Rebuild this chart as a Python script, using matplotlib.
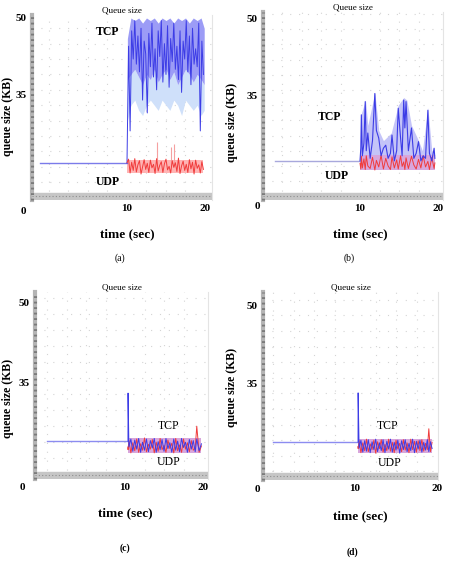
import matplotlib
matplotlib.use("Agg")
import matplotlib.pyplot as plt
from matplotlib.ticker import MultipleLocator

plt.rcParams["font.family"] = ["Liberation Serif", "DejaVu Serif"]

# colours
tcpBlue = "#3c3ce6"
tcpFill = "#9c9cf6"
tcpPale = "#cfe0fa"
udpRed = "#f03c3c"
udpFill = "#ffb4b4"
mixFill = "#d8a6dc"
stripGray = "#b4b4b4"

# ---------------- data (queue size in KB, time in sec) ----------------
# (a) flat part before 10 s
flat_a_t = [-1.15, 10.0]
flat_a_v = [21.7, 21.7]
times_a = [10.0, 10.2, 10.4, 10.6, 10.8, 11.0, 11.2, 11.4, 11.6, 11.8,
           12.0, 12.2, 12.4, 12.6, 12.8, 13.0, 13.2, 13.4, 13.6, 13.8,
           14.0, 14.2, 14.4, 14.6, 14.8, 15.0, 15.2, 15.4, 15.6, 15.8,
           16.0, 16.2, 16.4, 16.6, 16.8, 17.0, 17.2, 17.4, 17.6, 17.8,
           18.0, 18.2, 18.4, 18.6, 18.8, 19.0, 19.2, 19.4, 19.6, 19.8]
tcp_a = [21.7, 44.5, 28.0, 47.5, 42.0, 49.5, 41.0, 46.5, 39.5, 48.0,
         34.0, 45.5, 43.0, 31.5, 47.0, 40.5, 49.0, 38.5, 44.0, 36.0,
         47.5, 42.5, 49.5, 37.5, 45.0, 39.0, 48.5, 36.5, 46.0, 41.5,
         49.0, 40.0, 44.5, 38.0, 47.5, 35.5, 45.5, 42.0, 49.5, 39.5,
         46.5, 37.0, 48.0, 41.0, 44.0, 40.5, 49.0, 28.0, 45.5, 39.0]
udp_a = [21.8, 22.5, 19.8, 21.9, 20.3, 22.6, 20.0, 21.4, 22.2, 19.6,
         21.0, 22.4, 20.5, 21.7, 19.9, 22.3, 20.8, 21.5, 19.7, 22.6,
         20.2, 21.3, 22.0, 19.9, 21.6, 22.5, 20.4, 21.1, 19.8, 22.2,
         20.9, 21.8, 20.1, 22.7, 19.7, 21.2, 22.1, 20.3, 21.5, 19.9,
         22.4, 20.6, 21.9, 19.6, 22.3, 20.7, 21.4, 19.8, 22.0, 20.5]
env_a_t = [10.05, 10.5, 11, 11.5, 12, 12.5, 13, 13.5, 14, 14.5, 15,
           15.5, 16, 16.5, 17, 17.5, 18, 18.5, 19, 19.5, 19.9]
env_a_hi = [46, 50, 49.5, 50, 49, 50, 49.5, 50, 49, 50, 49.5,
            50, 49, 50, 49.5, 50, 49, 50, 49.5, 50, 48]
env_a_lo = [38, 39, 40, 38.5, 37, 39, 38, 40, 37.5, 39, 40,
            38, 39.5, 37, 38.5, 40, 39, 37.5, 39, 38, 37]
env_a_lo2 = [30, 33, 34, 32, 31, 33, 34, 33, 32, 34, 33,
             32, 34, 33, 31, 34, 33, 32, 33, 31, 32]
udp_band_a = [19.8, 22.4]
udp_spike_a_t = [13.8, 15.6, 16.0]
udp_spike_a_v = [25.8, 24.8, 25.5]

# (b)
flat_b_t = [-0.9, 10.0]
flat_b_v = [22.0, 22.0]
times_b = [10.0, 10.1, 10.17, 10.3, 10.5, 10.67, 10.8, 11.0, 11.3, 11.6,
           11.9, 12.1, 12.4, 12.7, 13.0, 13.3, 13.6, 13.9, 14.1, 14.4,
           14.7, 14.9, 15.2, 15.4, 15.6, 15.75, 15.9, 16.2, 16.6, 16.9,
           17.2, 17.5, 17.8, 18.1, 18.4, 18.7, 18.9, 19.2, 19.5, 19.6]
tcp_b = [22.0, 24.5, 31.1, 23.0, 25.5, 33.7, 24.0, 27.5, 22.5, 26.0,
         35.3, 28.0, 26.5, 23.0, 24.5, 25.1, 22.5, 23.5, 27.1, 22.0,
         24.0, 32.4, 26.5, 23.0, 34.0, 28.5, 33.7, 24.0, 28.5, 22.5,
         23.5, 25.8, 22.0, 23.0, 22.5, 32.0, 23.5, 22.0, 24.5, 22.5]
udp_b = [21.5, 20.4, 22.9, 20.6, 22.4, 20.3, 23.0, 21.0, 20.5, 22.7,
         20.2, 22.1, 20.8, 23.1, 20.4, 22.5, 21.0, 20.3, 22.8, 20.6,
         22.2, 20.4, 23.0, 20.9, 21.8, 20.3, 22.6, 20.5, 22.9, 21.2,
         20.4, 22.3, 20.6, 23.0, 20.8, 21.9, 20.3, 22.7, 20.5, 21.6]
env_b_t = [10.0, 10.2, 10.7, 11.0, 11.9, 12.4, 13.0, 14.0, 14.9,
           15.6, 16.0, 16.6, 17.5, 18.0, 18.7, 19.2, 19.6]
env_b_hi = [22, 31.5, 34, 29, 35.5, 28, 26, 27.5, 33,
            34.5, 34, 29, 26, 24, 32.5, 24, 23]
band_b = [20.2, 23.2]

# (c)
flat_c_t = [0.0, 10.38]
flat_c_v = [24.1, 24.1]
times_c = [10.38, 10.39, 10.5, 10.75, 11.0, 11.25, 11.5, 11.75, 12.0, 12.25,
           12.5, 12.75, 13.0, 13.25, 13.5, 13.75, 14.0, 14.25, 14.5, 14.75,
           15.0, 15.25, 15.5, 15.75, 16.0, 16.25, 16.5, 16.75, 17.0, 17.25,
           17.5, 17.75, 18.0, 18.25, 18.5, 18.75, 19.0, 19.2, 19.5, 19.8]
tcp_c = [24.1, 33.1, 23.0, 24.5, 22.2, 24.3, 22.6, 24.6, 22.0, 23.9,
         22.4, 24.5, 22.1, 24.2, 22.8, 24.6, 22.0, 24.0, 22.5, 24.4,
         22.2, 24.6, 22.7, 23.8, 22.0, 24.5, 22.4, 24.1, 22.1, 24.6,
         22.9, 23.9, 22.0, 24.4, 22.6, 24.2, 22.1, 24.5, 22.3, 23.6]
udp_c = [23.0, 22.5, 24.2, 21.9, 23.8, 22.3, 24.5, 22.0, 23.6, 22.4,
         24.7, 22.1, 23.5, 22.6, 24.4, 21.9, 23.9, 22.2, 24.6, 22.5,
         23.3, 22.0, 24.3, 22.7, 23.7, 21.9, 24.6, 22.3, 23.4, 22.0,
         24.5, 22.6, 23.8, 22.1, 24.2, 22.4, 22.8, 26.9, 22.0, 23.2]
band_c = [21.9, 24.7]

# (d)
flat_d_t = [0.0, 10.37]
flat_d_v = [23.65, 23.65]
times_d = [10.37, 10.38, 10.5, 10.72, 10.95, 11.18, 11.4, 11.62, 11.85, 12.08,
           12.3, 12.52, 12.75, 12.98, 13.2, 13.42, 13.65, 13.88, 14.1, 14.32,
           14.55, 14.78, 15.0, 15.22, 15.45, 15.68, 15.9, 16.12, 16.35, 16.58,
           16.8, 17.02, 17.25, 17.48, 17.7, 17.92, 18.15, 18.38, 18.6, 18.82,
           19.0, 19.2, 19.4]
tcp_d = [23.65, 33.1, 22.5, 24.0, 21.7, 23.9, 21.9, 24.1, 21.6, 23.7,
         22.2, 24.2, 21.8, 23.5, 22.0, 24.1, 21.6, 23.8, 22.3, 24.2,
         21.7, 23.6, 22.1, 24.0, 21.5, 23.9, 22.2, 24.1, 21.8, 23.4,
         22.0, 24.2, 21.6, 23.8, 22.3, 24.0, 21.7, 23.6, 22.1, 24.1,
         21.8, 23.7, 22.4]
udp_d = [22.8, 22.4, 23.9, 21.6, 23.5, 22.0, 24.2, 21.8, 23.3, 22.2,
         24.0, 21.5, 23.7, 22.4, 24.1, 21.7, 23.2, 22.0, 24.2, 21.9,
         23.6, 21.6, 24.0, 22.3, 23.4, 21.8, 24.1, 22.1, 23.5, 21.6,
         24.2, 22.2, 23.8, 21.7, 23.9, 22.0, 24.1, 21.9, 23.4, 22.2,
         26.2, 21.8, 23.6]
band_d = [21.5, 24.2]

y_ticks = [35, 50]
x_ticks = [10, 20]
panel_names = ["(a)", "(b)", "(c)", "(d)"]

# ---------------- figure ----------------
W, H = 449, 567
fig = plt.figure(figsize=(W / 100, H / 100), dpi=100)
fig.patch.set_facecolor("white")


def px_axes(x0, y0, x1, y1):
    # axes from pixel box (top-left origin)
    return fig.add_axes([x0 / W, 1 - y1 / H, (x1 - x0) / W, (y1 - y0) / H])


def style(ax, xlim, ylim, ylab_pos, xlab_pos, zero_pos):
    ax.set_xlim(*xlim)
    ax.set_ylim(*ylim)
    ax.set_facecolor("white")
    for s in ["top", "bottom"]:
        ax.spines[s].set_visible(False)
    ax.spines["right"].set_color("#e4e4e4")
    ax.spines["right"].set_linewidth(0.8)
    ax.spines["left"].set_color(stripGray)
    ax.spines["left"].set_linewidth(3)
    # ruler marks on the left strip
    ax.axvline(xlim[0], color="#7a7a7a", lw=2.2, ls=(0, (0.6, 1.2)), zorder=5, clip_on=False)
    # nam time bar at the bottom
    band_h = (ylim[1] - ylim[0]) * 0.038
    ax.axhspan(ylim[0], ylim[0] + band_h, color="#c6c6c6", zorder=4)
    ax.axhline(ylim[0] + band_h * 0.55, color="#8e8e8e", lw=0.8, ls=(0, (1, 2)), zorder=4)

    ax.set_yticks(y_ticks)
    ax.set_yticklabels([str(v) for v in y_ticks], fontweight="bold", fontsize=8)
    ax.set_xticks(x_ticks)
    ax.set_xticklabels([str(v) for v in x_ticks], fontweight="bold", fontsize=8)
    ax.tick_params(length=0, pad=3)
    ax.tick_params(axis="y", pad=4)
    ax.text(zero_pos[0], zero_pos[1], "0", transform=ax.transAxes, ha="center",
            va="center", fontsize=8, fontweight="bold")

    ax.yaxis.set_minor_locator(MultipleLocator(3))
    ax.xaxis.set_minor_locator(MultipleLocator(2.5))
    ax.tick_params(which="minor", length=0)
    ax.grid(True, which="minor", color="#d4d4d4", lw=0.8, ls=(0, (1, 7)))
    ax.set_axisbelow(True)

    ax.set_title("Queue size", fontsize=6.5, pad=2)
    ax.set_ylabel("queue size (KB)", fontweight="bold", fontsize=8.5)
    ax.yaxis.set_label_coords(*ylab_pos)
    ax.set_xlabel("time (sec)", fontweight="bold", fontsize=9.5)
    ax.xaxis.set_label_coords(*xlab_pos)


# (a)
ax = px_axes(32, 15, 212, 200)
style(ax, (-2.18, 20.9), (14.54, 50.58), (-0.10, 0.45), (0.53, -0.151), (-0.05, -0.06))
ax.plot(flat_a_t, flat_a_v, color="#7b7bea", lw=1)
ax.fill_between(env_a_t, env_a_lo2, env_a_lo, color=tcpPale, lw=0)
ax.fill_between(env_a_t, env_a_lo, env_a_hi, color=tcpFill, lw=0)
ax.plot(times_a, tcp_a, color=tcpBlue, lw=0.7)
ax.fill_between([times_a[0], times_a[-1]], udp_band_a[0], udp_band_a[1], color=udpFill, lw=0)
ax.vlines(udp_spike_a_t, 21.0, udp_spike_a_v, color="#f5a0a0", lw=0.8)
ax.plot(times_a, udp_a, color=udpRed, lw=0.7)
ax.text(0.42, 0.91, "TCP", transform=ax.transAxes, ha="center", va="center",
        fontsize=8.5, fontweight="bold")
ax.text(0.42, 0.097, "UDP", transform=ax.transAxes, ha="center", va="center",
        fontsize=8.5, fontweight="bold", zorder=6)

# (b)
ax = px_axes(263, 12, 443, 200)
style(ax, (-2.44, 20.64), (14.28, 51.38), (-0.139, 0.41), (0.54, -0.149), (-0.033, -0.037))
ax.plot(flat_b_t, flat_b_v, color="#a8a8dc", lw=1)
ax.fill_between(env_b_t, band_b[1], env_b_hi, color="#c4c4f8", lw=0)
ax.fill_between([times_b[0], times_b[-1]], band_b[0], band_b[1], color=mixFill, lw=0)
ax.plot(times_b, udp_b, color=udpRed, lw=0.7)
ax.plot(times_b, tcp_b, color=tcpBlue, lw=0.8)
ax.text(0.37, 0.44, "TCP", transform=ax.transAxes, ha="center", va="center",
        fontsize=8.5, fontweight="bold")
ax.text(0.41, 0.128, "UDP", transform=ax.transAxes, ha="center", va="center",
        fontsize=8.5, fontweight="bold", zorder=6)

# (c)
ax = px_axes(35, 292, 208, 479)
style(ax, (-1.54, 20.64), (17.0, 52.06), (-0.121, 0.43), (0.52, -0.15), (-0.075, -0.048))
ax.plot(flat_c_t, flat_c_v, color="#8c8cf0", lw=1)
ax.fill_between([times_c[1], times_c[-1]], band_c[0], band_c[1], color=mixFill, lw=0)
ax.plot(times_c, udp_c, color=udpRed, lw=0.7)
ax.plot(times_c, tcp_c, color=tcpBlue, lw=0.7)
ax.text(0.77, 0.283, "TCP", transform=ax.transAxes, ha="center", va="center", fontsize=8.5)
ax.text(0.77, 0.091, "UDP", transform=ax.transAxes, ha="center", va="center",
        fontsize=8.5, zorder=6)

# (d)
ax = px_axes(263, 292, 438, 480)
style(ax, (-1.22, 20.12), (16.35, 52.5), (-0.143, 0.49), (0.554, -0.16), (-0.034, -0.048))
ax.plot(flat_d_t, flat_d_v, color="#8c8cf0", lw=1)
ax.fill_between([times_d[1], times_d[-1]], band_d[0], band_d[1], color=mixFill, lw=0)
ax.plot(times_d, udp_d, color=udpRed, lw=0.7)
ax.plot(times_d, tcp_d, color=tcpBlue, lw=0.7)
ax.text(0.714, 0.287, "TCP", transform=ax.transAxes, ha="center", va="center", fontsize=8.5)
ax.text(0.726, 0.09, "UDP", transform=ax.transAxes, ha="center", va="center",
        fontsize=8.5, zorder=6)

# panel captions
caption_px = [(120, 258), (349, 258), (125, 548), (352, 552)]
for name, (cx, cy) in zip(panel_names, caption_px):
    fig.text(cx / W, 1 - cy / H, name, ha="center", va="center", fontsize=7,
             fontweight="bold" if name in ("(c)", "(d)") else "normal")

fig.savefig("out.png", dpi=100)
